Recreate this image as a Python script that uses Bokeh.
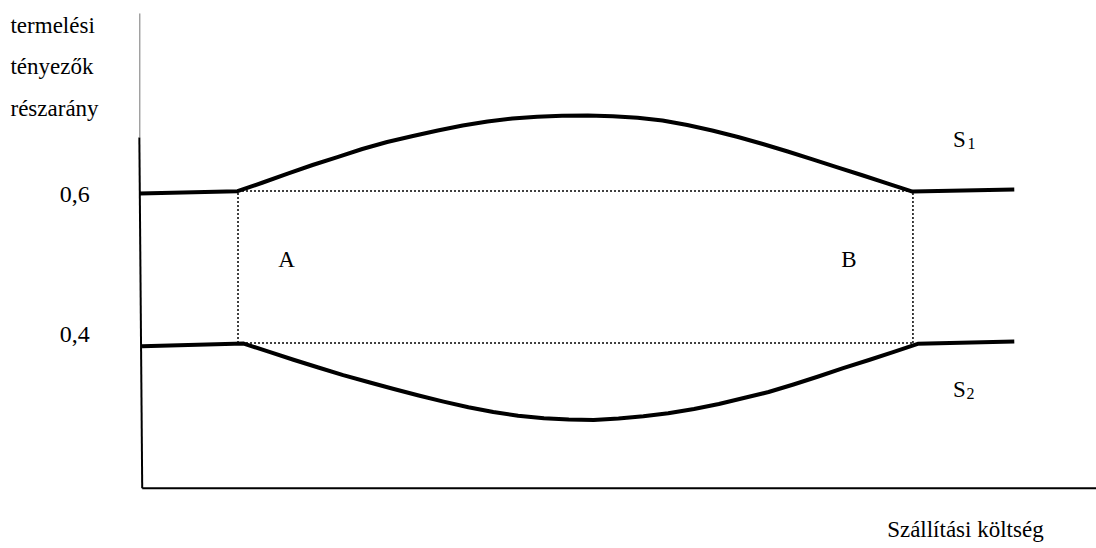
from bokeh.plotting import figure
from bokeh.models import Range1d
from bokeh.core.properties import value
from bokeh.embed import file_html
from bokeh.resources import INLINE

# --- data (schematic units: x = transport cost, y = factor share) ---
s1_x = [-0.1, 10.15, 12.8, 15.4, 18.0, 20.6, 23.2, 25.8, 28.5, 31.1, 33.7, 36.3, 38.9, 41.5, 44.1,
        46.8, 49.4, 52.0, 54.6, 57.2, 59.8, 62.5, 65.1, 67.7, 70.3, 72.9, 75.5, 78.1, 80.75, 91.4]
s1_y = [0.5967, 0.5997, 0.6112, 0.6230, 0.6342, 0.6447, 0.6553, 0.6645, 0.6724, 0.6796, 0.6862,
        0.6914, 0.6954, 0.6978, 0.6989, 0.6993, 0.6984, 0.6963, 0.6928, 0.6868, 0.6796, 0.6711,
        0.6618, 0.6520, 0.6417, 0.6312, 0.6207, 0.6101, 0.5993, 0.6020]

s2_x = [0.16, 10.8, 13.4, 16.0, 18.6, 21.2, 23.9, 26.5, 29.1, 31.7, 34.3, 36.9, 39.5, 42.2, 44.8,
        47.4, 50.0, 52.6, 55.2, 57.9, 60.5, 63.1, 65.7, 68.3, 70.9, 73.5, 76.2, 78.8, 81.3, 91.4]
s2_y = [0.3958, 0.3993, 0.3886, 0.3780, 0.3678, 0.3578, 0.3483, 0.3395, 0.3309, 0.3228, 0.3154,
        0.3092, 0.3043, 0.3009, 0.2992, 0.2988, 0.3007, 0.3036, 0.3075, 0.3132, 0.3197, 0.3276,
        0.3355, 0.3454, 0.3559, 0.3669, 0.3776, 0.3884, 0.3989, 0.4020]

# region bounds (A .. B) and share levels
region_x = [10.2, 80.8]
share_levels = [0.4, 0.6]

tick_vals = [0.6, 0.4]
tick_labels = ["0,6", "0,4"]

y_title = ["termelési", "tényezők", "részarány"]
x_title = "Szállítási költség"
region_labels = ["A", "B"]
curve_names = ["S", "S"]
curve_subs = ["1", "2"]

FONT = value("'Liberation Serif', 'Times New Roman', serif")
DY = -8  # baseline correction in screen px

p = figure(width=1096, height=548,
           x_range=Range1d(-14.644, 100.0), y_range=Range1d(0.12961, 0.85066),
           output_backend="svg", toolbar_location=None,
           x_axis_location=None, y_axis_location=None, min_border=0)
p.outline_line_color = None
p.xgrid.visible = False
p.ygrid.visible = False
p.background_fill_color = "white"
p.border_fill_color = "white"

y_lo = 0.2089   # level of the horizontal axis
y_thin_top = 0.8336
y_thick_top = 0.6704

# axes drawn as lines
p.line([-0.07, -0.07], [y_thin_top, y_thick_top], line_color="#777777", line_width=1)
p.line([-0.12, 0.18], [y_thick_top, y_lo], line_color="black", line_width=2)
p.line([0.18, 100.0], [y_lo, y_lo], line_color="black", line_width=2)

# dotted rectangle between A and B
xa, xb = region_x
lo, hi = share_levels
p.multi_line(xs=[[xa, xa], [xb, xb], [xa, xb], [xa, xb]],
             ys=[[lo, hi], [lo, hi], [hi, hi], [lo, lo]],
             line_color="black", line_width=1.5, line_dash="2 2")

# curves
p.line(s1_x, s1_y, line_color="black", line_width=4, line_join="round")
p.line(s2_x, s2_y, line_color="black", line_width=4, line_join="round")

common = dict(text_font=FONT, text_align="left", text_baseline="alphabetic", text_color="black")

# tick labels
p.text(x=[-5.3, -5.3], y=tick_vals, text=tick_labels, y_offset=[11 + DY, -1 + DY],
       text_font=FONT, text_font_size=value("24px"), text_align="right",
       text_baseline="alphabetic", text_color="black")

# y title (three lines)
p.text(x=[-13.6] * 3, y=[0.8072, 0.7533, 0.6980], text=y_title, y_offset=DY,
       text_font_size=value("23px"), **common)

# x title
p.text(x=[78.1], y=[0.1441], text=[x_title], y_offset=DY,
       text_font_size=value("23px"), **common)

# A / B
p.text(x=[14.4, 73.3], y=[0.5, 0.5], text=region_labels, y_offset=DY,
       text_font_size=value("23px"), **common)

# S1 / S2
p.text(x=[85.0, 85.0], y=[0.6576, 0.3287], text=curve_names, y_offset=DY,
       text_font_size=value("23px"), **common)
p.text(x=[86.5, 86.4], y=[0.652, 0.323], text=curve_subs, y_offset=DY,
       text_font_size=value("16px"), **common)

open("out.html", "w").write(file_html(p, INLINE))
